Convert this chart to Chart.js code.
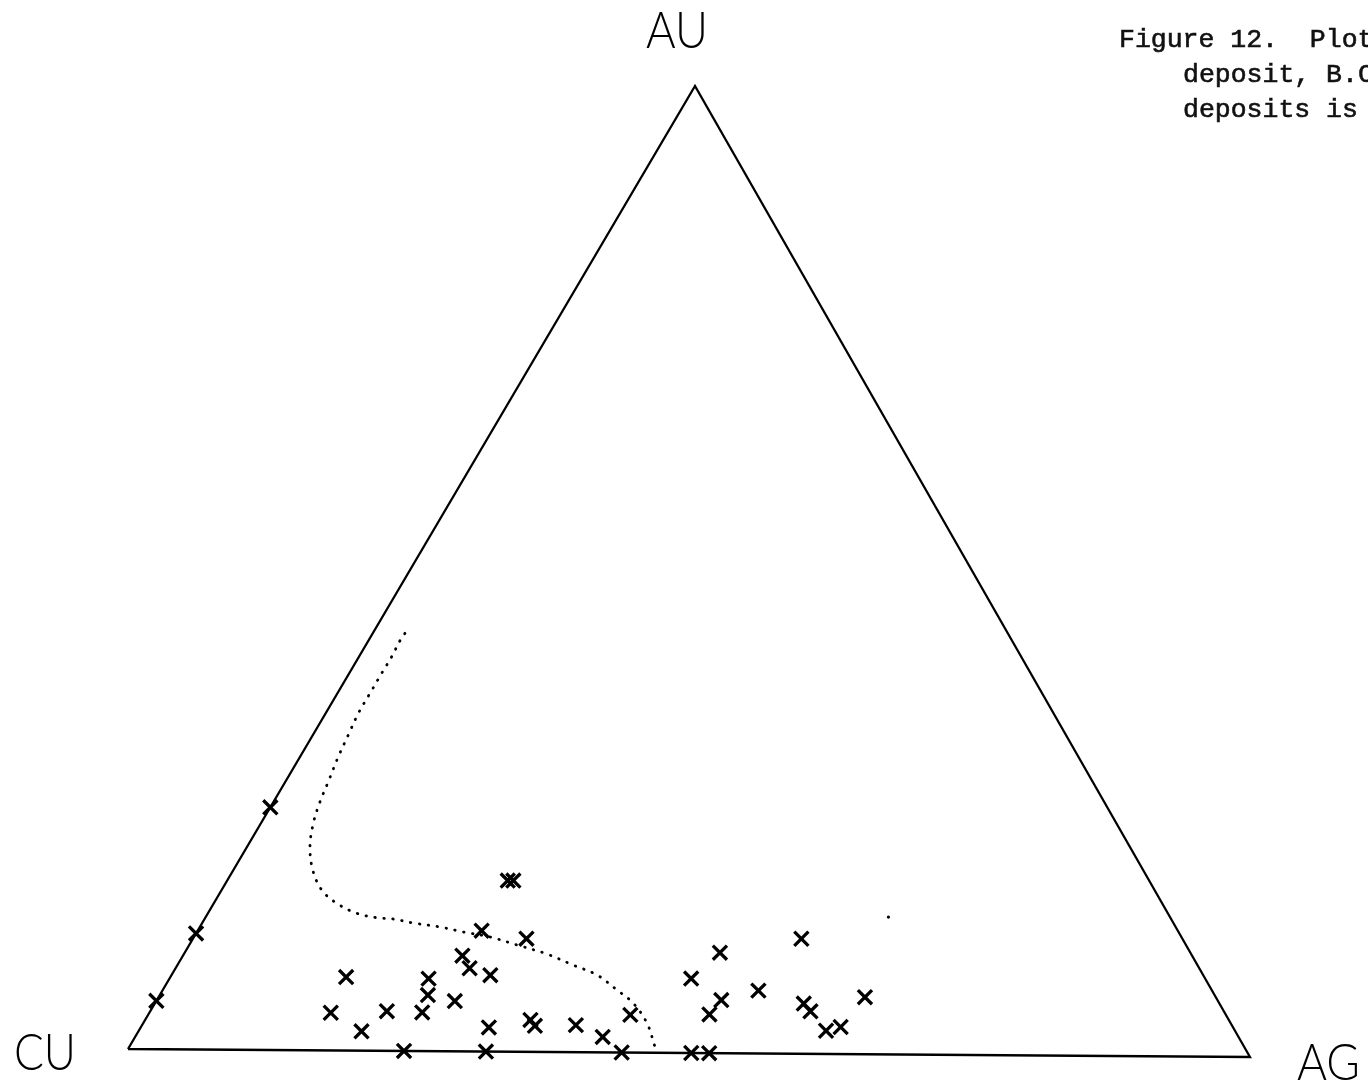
<!DOCTYPE html>
<html><head><meta charset="utf-8">
<script src="https://cdn.jsdelivr.net/npm/chart.js@4.4.1/dist/chart.umd.min.js"></script>
<style>html,body{margin:0;padding:0;background:#fff;}#wrap{width:1368px;height:1086px;position:relative;overflow:hidden;}</style>
</head><body><div id="wrap"><canvas id="c" width="1368" height="1086"></canvas></div>
<script>
// ---- Data (ternary percentages: AG share, AU share; CU = 100 - AG - AU) ----
const vertexLabels = { top: 'AU', left: 'CU', right: 'AG' };
const captionLines = ['Figure 12.  Plot', 'deposit, B.C', 'deposits is'];

const sampleAg = [24.9, 25.4, 25.2, 29.6, 24.8, 26.1, 28.3, 15.6, 23.0, 23.8, 26.5, 16.1, 21.0, 24.2, 19.8, 30.9, 34.2, 34.9, 24.6, 31.9,
                  38.5, 41.5, 42.8, 44.0, 46.3, 47.5, 50.1, 49.8, 50.2, 51.8, 52.9, 54.0, 57.6, 58.6, 61.0, 62.1, 62.7, 0.0, 0.0, 0.0];
const sampleAu = [17.7, 17.7, 12.5, 11.7, 9.9, 8.6, 7.9, 7.6, 7.5, 5.8, 5.2, 3.9, 4.1, 4.0, 2.0, 2.5, 3.3, 2.7, 0.0, 0.0,
                  2.8, 1.6, 3.9, 0.0, 7.7, 10.4, 5.5, 4.0, 0.0, 0.0, 6.5, 11.9, 5.2, 4.4, 2.4, 2.8, 5.9, 25.1, 12.0, 5.0];

const boundaryAg = [2.86, 2.80, 2.90, 2.88, 2.89, 2.90, 3.14, 3.39, 3.81, 4.12, 4.65, 5.58, 7.04, 8.88, 10.91, 13.21, 15.21, 16.73,
                    18.71, 21.32, 23.62, 26.28, 29.09, 32.22, 35.11, 37.76, 40.32, 42.42, 44.70, 46.67];
const boundaryAu = [43.19, 42.42, 40.76, 39.04, 36.96, 34.88, 32.63, 30.38, 27.79, 25.71, 23.48, 21.05, 18.65, 16.59, 15.22, 14.20, 13.76, 13.64,
                    13.24, 12.85, 12.35, 11.85, 11.04, 10.13, 9.01, 8.00, 6.46, 5.13, 3.07, 0.60];

const strayAg = [60.6];
const strayAu = [14.2];

const frameAg = [0, 100, 0, 0];
const frameAu = [0, 0, 100, 0];

// ---- Ternary projection onto the chart's unit scales ----
const CORNER = { cu: [0, 8 / 971], ag: [1, 0], au: [567 / 1122, 1] };
function proj(ag, au) {
  const a = ag / 100, b = au / 100;
  return {
    x: CORNER.cu[0] + a * (CORNER.ag[0] - CORNER.cu[0]) + b * (CORNER.au[0] - CORNER.cu[0]),
    y: CORNER.cu[1] + a * (CORNER.ag[1] - CORNER.cu[1]) + b * (CORNER.au[1] - CORNER.cu[1])
  };
}
const toPts = (ags, aus) => ags.map((v, i) => proj(v, aus[i]));

const bgPlugin = {
  id: 'bg',
  beforeDraw(chart) {
    const c = chart.ctx;
    c.save(); c.fillStyle = '#fff'; c.fillRect(0, 0, chart.width, chart.height); c.restore();
  }
};

function drawLabel(c, text, left, baseline, width) {
  c.save();
  c.font = '300 52px Lato';
  const w = c.measureText(text).width;
  c.translate(left, baseline);
  c.scale(width / w, 1);
  c.fillText(text, 0, 0);
  c.restore();
}

const textPlugin = {
  id: 'texts',
  afterDraw(chart) {
    const c = chart.ctx;
    c.save();
    c.fillStyle = '#000';
    c.textBaseline = 'alphabetic';
    c.textAlign = 'left';
    drawLabel(c, vertexLabels.top, 646, 48, 62);
    drawLabel(c, vertexLabels.left, 14, 1070, 62);
    drawLabel(c, vertexLabels.right, 1297, 1080, 63);
    c.fillStyle = '#111';
    c.strokeStyle = '#111';
    c.lineWidth = 0.6;
    c.font = '26.5px "Liberation Mono"';
    const lines = [[captionLines[0], 1119, 47], [captionLines[1], 1183, 82], [captionLines[2], 1183, 117]];
    lines.forEach(([t, x, y]) => { c.fillText(t, x, y); c.strokeText(t, x, y); });
    c.restore();
  }
};

new Chart(document.getElementById('c'), {
  type: 'scatter',
  data: {
    datasets: [
      { label: 'frame', data: toPts(frameAg, frameAu), showLine: true, borderColor: '#000', borderWidth: 2.3,
        pointRadius: 0, tension: 0, clip: false, fill: false },
      { label: 'boundary', data: toPts(boundaryAg, boundaryAu), showLine: true, borderColor: '#000', borderWidth: 2.8,
        borderDash: [0.5, 8.5], borderCapStyle: 'round', pointRadius: 0, tension: 0.35, clip: false, fill: false },
      { label: 'samples', data: toPts(sampleAg, sampleAu), showLine: false, pointStyle: 'crossRot', pointRadius: 10,
        borderColor: '#000', borderWidth: 3.3, clip: false },
      { label: 'stray', data: toPts(strayAg, strayAu), showLine: false, pointStyle: 'circle', pointRadius: 1.6,
        backgroundColor: '#000', borderWidth: 0, clip: false }
    ]
  },
  options: {
    responsive: false,
    animation: false,
    events: [],
    layout: { padding: { left: 128, right: 118, top: 86, bottom: 29 } },
    scales: {
      x: { type: 'linear', min: 0, max: 1, display: false },
      y: { type: 'linear', min: 0, max: 1, display: false }
    },
    plugins: { legend: { display: false }, tooltip: { enabled: false } }
  },
  plugins: [bgPlugin, textPlugin]
});
</script>
</body></html>
